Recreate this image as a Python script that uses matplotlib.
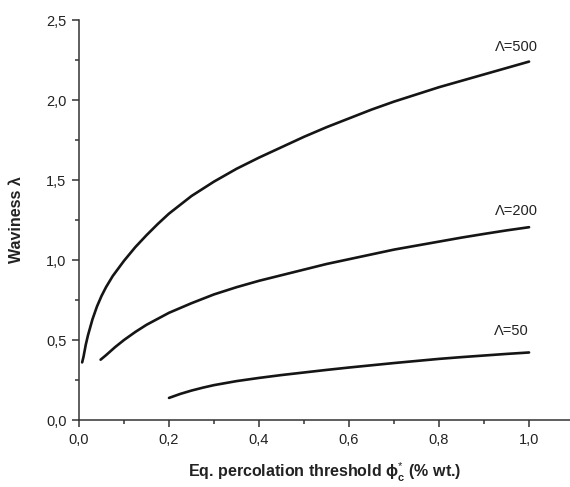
import numpy as np
import matplotlib
matplotlib.use("Agg")
import matplotlib.pyplot as plt
from matplotlib.ticker import MultipleLocator, FuncFormatter

plt.rcParams['font.family'] = ['Liberation Sans', 'DejaVu Sans']
plt.rcParams['mathtext.fontset'] = 'custom'
plt.rcParams['mathtext.rm'] = 'Liberation Sans'
plt.rcParams['mathtext.bf'] = 'Liberation Sans:bold'
plt.rcParams['mathtext.it'] = 'Liberation Sans:italic'

# curves
x_500 = [0.007, 0.01, 0.015, 0.02, 0.03, 0.04, 0.05, 0.06, 0.075, 0.10, 0.125, 0.15,
         0.175, 0.20, 0.25, 0.30, 0.35, 0.40, 0.45, 0.50, 0.55, 0.60, 0.65, 0.70,
         0.75, 0.80, 0.85, 0.90, 0.95, 1.00]
y_500 = [0.36, 0.395, 0.47, 0.53, 0.63, 0.71, 0.775, 0.83, 0.90, 0.995, 1.08, 1.155,
         1.225, 1.29, 1.40, 1.49, 1.57, 1.64, 1.705, 1.77, 1.83, 1.885, 1.94, 1.99,
         2.035, 2.08, 2.12, 2.16, 2.20, 2.24]

x_200 = [0.048, 0.06, 0.08, 0.10, 0.125, 0.15, 0.20, 0.25, 0.30, 0.35, 0.40, 0.45,
         0.50, 0.55, 0.60, 0.65, 0.70, 0.75, 0.80, 0.85, 0.90, 0.95, 1.00]
y_200 = [0.377, 0.405, 0.455, 0.50, 0.55, 0.595, 0.67, 0.73, 0.785, 0.83, 0.87, 0.905,
         0.94, 0.975, 1.005, 1.035, 1.065, 1.09, 1.115, 1.14, 1.163, 1.185, 1.205]

x_50 = [0.20, 0.225, 0.25, 0.275, 0.30, 0.35, 0.40, 0.45, 0.50, 0.55, 0.60, 0.65,
        0.70, 0.75, 0.80, 0.85, 0.90, 0.95, 1.00]
y_50 = [0.138, 0.163, 0.184, 0.202, 0.218, 0.243, 0.263, 0.281, 0.297, 0.313, 0.328,
        0.342, 0.356, 0.369, 0.382, 0.393, 0.403, 0.413, 0.422]

curve_labels = ["\u039b=500", "\u039b=200", "\u039b=50"]
label_pos = [(1.02, 2.29), (1.02, 1.26), (1.0, 0.51)]

fig = plt.figure(figsize=(5.70, 4.87), dpi=100)
ax = fig.add_axes([79/570, 67/487, 491/570, 400/487])

line_col = '#151515'
for xs, ys in [(x_500, y_500), (x_200, y_200), (x_50, y_50)]:
    ax.plot(xs, ys, color=line_col, lw=1.9, solid_capstyle='round',
            solid_joinstyle='round')

for txt, (tx, ty) in zip(curve_labels, label_pos):
    ax.text(tx, ty, txt, ha='right', va='bottom', fontsize=10.5, color='#222222')

ax.set_xlim(0, 1.091)
ax.set_ylim(0, 2.5)

ax.spines['top'].set_visible(False)
ax.spines['right'].set_visible(False)
for s in ['left', 'bottom']:
    ax.spines[s].set_color('#333333')
    ax.spines[s].set_linewidth(1.1)

ax.xaxis.set_major_locator(MultipleLocator(0.2))
ax.xaxis.set_minor_locator(MultipleLocator(0.1))
ax.yaxis.set_major_locator(MultipleLocator(0.5))
ax.yaxis.set_minor_locator(MultipleLocator(0.25))
comma = FuncFormatter(lambda v, p: ("%.1f" % v).replace('.', ','))
ax.xaxis.set_major_formatter(comma)
ax.yaxis.set_major_formatter(comma)
ax.tick_params(which='both', direction='out', color='#333333', width=1.1,
               labelsize=10.5, labelcolor='#222222')
ax.tick_params(which='major', length=5, pad=4)
ax.tick_params(which='minor', length=3)

ax.set_xlabel(r"Eq. percolation threshold $\mathbf{\phi}_{\mathbf{c}}^{*}$ (% wt.)",
              fontsize=11.5, fontweight='bold', color='#222222', labelpad=10)
ax.set_ylabel("Waviness \u03bb", fontsize=11.5, fontweight='bold', color='#222222',
              labelpad=16)

fig.savefig("out.png", dpi=100)
